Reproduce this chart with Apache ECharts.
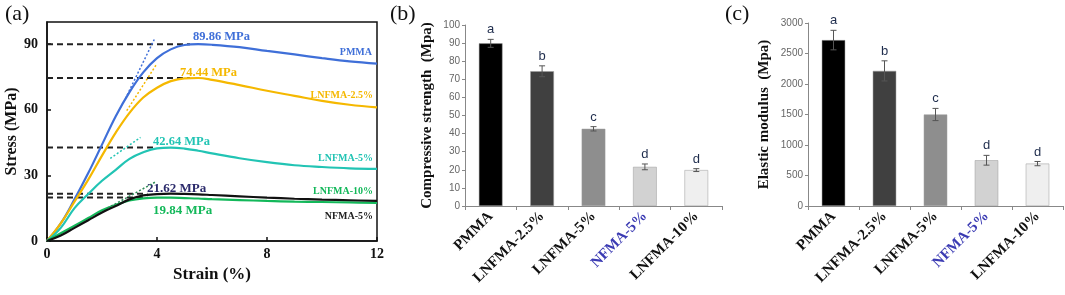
<!DOCTYPE html>
<html>
<head>
<meta charset="utf-8">
<script src="https://cdn.jsdelivr.net/npm/echarts@6/dist/echarts.min.js"></script>
<style>
html, body { margin: 0; padding: 0; background: #fff; }
#main { width: 1065px; height: 295px; }
</style>
</head>
<body>
<div id="main"></div>
<script>
// ---- panel (a) stress-strain curves ----
var aStrain = [0, 0.5, 1, 1.5, 2, 2.5, 3, 3.5, 4, 4.5, 5, 5.5, 6, 7, 8, 9, 10, 11, 12];
var aPMMA    = [0, 8, 19, 31, 44, 57, 68, 77, 83.5, 87.5, 89.5, 89.86, 89.6, 88.5, 86.8, 85.2, 83.5, 82, 81];
var aLN25    = [0, 8, 18, 28, 39, 49.5, 58.5, 65.5, 70, 73, 74.3, 74.44, 73.6, 71.2, 68.6, 66.3, 64, 62.2, 61];
var aLN5     = [0, 6, 15, 21.5, 27.5, 32.5, 37.5, 40.5, 42.3, 42.64, 42.2, 41.2, 40, 37.8, 36, 34.6, 33.8, 33.2, 32.9];
var aNF5     = [0, 2.5, 6, 9.5, 13, 16, 19, 20.8, 21.4, 21.62, 21.5, 21.3, 21, 20.4, 19.8, 19.3, 18.9, 18.6, 18.3];
var aLN10    = [0, 3.5, 7, 10.5, 14, 16.5, 18.5, 19.5, 19.84, 19.8, 19.6, 19.4, 19.1, 18.7, 18.3, 18, 17.8, 17.6, 17.4];

var aCurveNames  = ['PMMA', 'LNFMA-2.5%', 'LNFMA-5%', 'LNFMA-10%', 'NFMA-5%'];
var aCurveColors = ['#3f6fd8', '#f5b800', '#22c4b4', '#13b85a', '#111111'];

// peak value, end of dashed guide line
var aPeak    = [89.86, 74.44, 42.64, 21.62, 19.84];
var aPeakEnd = [5.2, 5.2, 3.95, 3.65, 3.65];

// tangent (modulus) dotted lines: [x1, y1, x2, y2]
var aTangent = [
    [2.85, 65, 3.9, 92],
    [2.9, 59.5, 4.0, 81],
    [2.3, 37.7, 3.4, 47.3],
    [2.2, 15, 3.95, 27]
];
var aTangentColors = ['#3f6fd8', '#f5b800', '#22c4b4', '#2e8b57'];

// ---- panels (b) and (c) ----
var aSamples  = ['PMMA', 'LNFMA-2.5%', 'LNFMA-5%', 'NFMA-5%', 'LNFMA-10%'];
var aBarColor = ['#000000', '#404040', '#8e8e8e', '#d2d2d2', '#efefef'];
var aStrength = [89.86, 74.44, 42.64, 21.62, 19.84];
var aStrErr   = [2.2, 3, 1.2, 1.6, 0.8];
var aModulus  = [2720, 2215, 1500, 750, 695];
var aModErr   = [160, 165, 100, 80, 35];
var aLetters  = ['a', 'b', 'c', 'd', 'd'];

var sSerif = '"Times New Roman", "Liberation Serif", "DejaVu Serif", serif';
var sSans = 'Arial, "Liberation Sans", sans-serif';

function pairs(xs, ys) {
    var out = [];
    for (var i = 0; i < xs.length; i++) out.push([xs[i], ys[i]]);
    return out;
}

// error bar + significance letter
function renderErr(aErr) {
    return function (params, api) {
        var i = params.dataIndex;
        var v = api.value(1);
        var e = aErr[i];
        var top = api.coord([api.value(0), v + e]);
        var bot = api.coord([api.value(0), v - e]);
        var c = '#555';
        return {
            type: 'group',
            children: [
                {type: 'line', shape: {x1: top[0], y1: top[1], x2: bot[0], y2: bot[1]}, style: {stroke: c, lineWidth: 1}},
                {type: 'line', shape: {x1: top[0] - 3, y1: top[1], x2: top[0] + 3, y2: top[1]}, style: {stroke: c, lineWidth: 1}},
                {type: 'line', shape: {x1: bot[0] - 3, y1: bot[1], x2: bot[0] + 3, y2: bot[1]}, style: {stroke: c, lineWidth: 1}},
                {type: 'text', style: {text: aLetters[i], x: top[0], y: top[1] - 3, textAlign: 'center', textVerticalAlign: 'bottom',
                    fill: '#1f2d4d', font: '13px ' + sSans}}
            ]
        };
    };
}

var aSeries = [];
var aCurves = [aPMMA, aLN25, aLN5, aLN10, aNF5];
// dashed guide lines first (under curves)
for (var k = 0; k < aPeak.length; k++) {
    aSeries.push({
        type: 'line', xAxisIndex: 0, yAxisIndex: 0, symbol: 'none', silent: true,
        data: [[0, aPeak[k]], [aPeakEnd[k], aPeak[k]]],
        lineStyle: {color: '#222', width: 2, type: [6, 4]}
    });
}
for (var k = 0; k < aCurves.length; k++) {
    aSeries.push({
        name: aCurveNames[k], type: 'line', xAxisIndex: 0, yAxisIndex: 0,
        symbol: 'none', smooth: 0.4,
        data: pairs(aStrain, aCurves[k]),
        lineStyle: {color: aCurveColors[k], width: 2.2}
    });
}
for (var k = 0; k < aTangent.length; k++) {
    var t = aTangent[k];
    aSeries.push({
        type: 'line', xAxisIndex: 0, yAxisIndex: 0, symbol: 'none', silent: true,
        data: [[t[0], t[1]], [t[2], t[3]]],
        lineStyle: {color: aTangentColors[k], width: 1.5, type: [2, 2]}
    });
}

// bars (b)
aSeries.push({
    type: 'bar', xAxisIndex: 1, yAxisIndex: 1, barWidth: '46%',
    data: aStrength.map(function (v, i) { return {value: v, itemStyle: {color: aBarColor[i]}}; }),
    itemStyle: {borderColor: '#9a9a9a', borderWidth: 0.5}
});
aSeries.push({
    type: 'custom', xAxisIndex: 1, yAxisIndex: 1, renderItem: renderErr(aStrErr), z: 5,
    data: aStrength.map(function (v, i) { return [i, v]; })
});
// bars (c)
aSeries.push({
    type: 'bar', xAxisIndex: 2, yAxisIndex: 2, barWidth: '46%',
    data: aModulus.map(function (v, i) { return {value: v, itemStyle: {color: aBarColor[i]}}; }),
    itemStyle: {borderColor: '#9a9a9a', borderWidth: 0.5}
});
aSeries.push({
    type: 'custom', xAxisIndex: 2, yAxisIndex: 2, renderItem: renderErr(aModErr), z: 5,
    data: aModulus.map(function (v, i) { return [i, v]; })
});

function catAxis(idx) {
    return {
        type: 'category', gridIndex: idx, data: aSamples,
        axisLine: {lineStyle: {color: '#888', width: 1}},
        axisTick: {show: true, length: 4, lineStyle: {color: '#888'}},
        axisLabel: {
            rotate: 45, margin: 8, fontFamily: sSerif, fontWeight: 'bold', fontSize: 15,
            color: function (v) { return v === 'NFMA-5%' ? '#3b3bb3' : '#111'; }
        }
    };
}
function valAxis(idx, max, interval, name, gap) {
    return {
        type: 'value', gridIndex: idx, min: 0, max: max, interval: interval,
        name: name, nameLocation: 'middle', nameGap: gap, nameRotate: 90,
        nameTextStyle: {fontFamily: sSerif, fontWeight: 'bold', fontSize: 15, color: '#111'},
        axisLine: {show: true, lineStyle: {color: '#888', width: 1}},
        axisTick: {show: true, length: 3, lineStyle: {color: '#888'}},
        axisLabel: {color: '#666', fontFamily: sSans, fontSize: 10, margin: 5,
            formatter: function (v) { return String(v); }},
        splitLine: {show: false}
    };
}

function peakText(txt, x, y, color, size) {
    return {type: 'text', left: x, top: y,
        style: {text: txt, fill: color, font: 'bold ' + size + 'px ' + sSerif}};
}
function endText(txt, xr, y, color) {
    return {type: 'text', right: 1065 - xr, top: y,
        style: {text: txt, fill: color, font: 'bold 10px ' + sSerif}};
}

var jOption = {
    animation: false,
    grid: [
        {left: 47, right: 688, top: 22, height: 219, show: true, borderColor: '#111', borderWidth: 1.5, backgroundColor: 'transparent'},
        {left: 465, right: 343, top: 25, height: 181},
        {left: 808, right: 2, top: 23, height: 183}
    ],
    xAxis: [
        {
            type: 'value', gridIndex: 0, min: 0, max: 12, interval: 4,
            name: 'Strain (%)', nameLocation: 'middle', nameGap: 22,
            nameTextStyle: {fontFamily: sSerif, fontWeight: 'bold', fontSize: 17, color: '#111'},
            axisLine: {lineStyle: {color: '#111', width: 1.5}},
            axisTick: {inside: true, length: 4, lineStyle: {color: '#111', width: 1.5}},
            axisLabel: {fontFamily: sSerif, fontWeight: 'bold', fontSize: 14, color: '#111', margin: 6},
            splitLine: {show: false}
        },
        catAxis(1),
        catAxis(2)
    ],
    yAxis: [
        {
            type: 'value', gridIndex: 0, min: 0, max: 100, interval: 30,
            name: 'Stress (MPa)', nameLocation: 'middle', nameGap: 27, nameRotate: 90,
            nameTextStyle: {fontFamily: sSerif, fontWeight: 'bold', fontSize: 16, color: '#111'},
            axisLine: {lineStyle: {color: '#111', width: 1.5}},
            axisTick: {inside: true, length: 4, lineStyle: {color: '#111', width: 1.5}},
            axisLabel: {fontFamily: sSerif, fontWeight: 'bold', fontSize: 14, color: '#111', margin: 9, showMaxLabel: false},
            splitLine: {show: false}
        },
        valAxis(1, 100, 10, 'Compressive strength  (Mpa)', 30),
        valAxis(2, 3000, 500, 'Elastic modulus  (Mpa)', 36)
    ],
    graphic: [
        {type: 'text', left: 5, top: 3, style: {text: '(a)', fill: '#111', font: '22px ' + sSerif}},
        {type: 'text', left: 390, top: 3, style: {text: '(b)', fill: '#111', font: '22px ' + sSerif}},
        {type: 'text', left: 725, top: 3, style: {text: '(c)', fill: '#111', font: '22px ' + sSerif}},
        peakText('89.86 MPa', 193, 30, '#3f6fd8', 12.5),
        peakText('74.44 MPa', 180, 66, '#f5b800', 12.5),
        peakText('42.64 MPa', 153, 135, '#22c4b4', 12.5),
        peakText('21.62 MPa', 147, 182, '#2b2a6b', 13),
        peakText('19.84 MPa', 153, 204, '#13b85a', 13),
        endText('PMMA', 372, 47, '#3f6fd8'),
        endText('LNFMA-2.5%', 373, 90, '#f5b800'),
        endText('LNFMA-5%', 373, 153, '#22c4b4'),
        endText('LNFMA-10%', 373, 186, '#13b85a'),
        endText('NFMA-5%', 373, 211, '#222')
    ],
    series: aSeries
};

var myChart = echarts.init(document.getElementById('main'), null, {renderer: 'canvas'});
myChart.setOption(jOption);
</script>
</body>
</html>
